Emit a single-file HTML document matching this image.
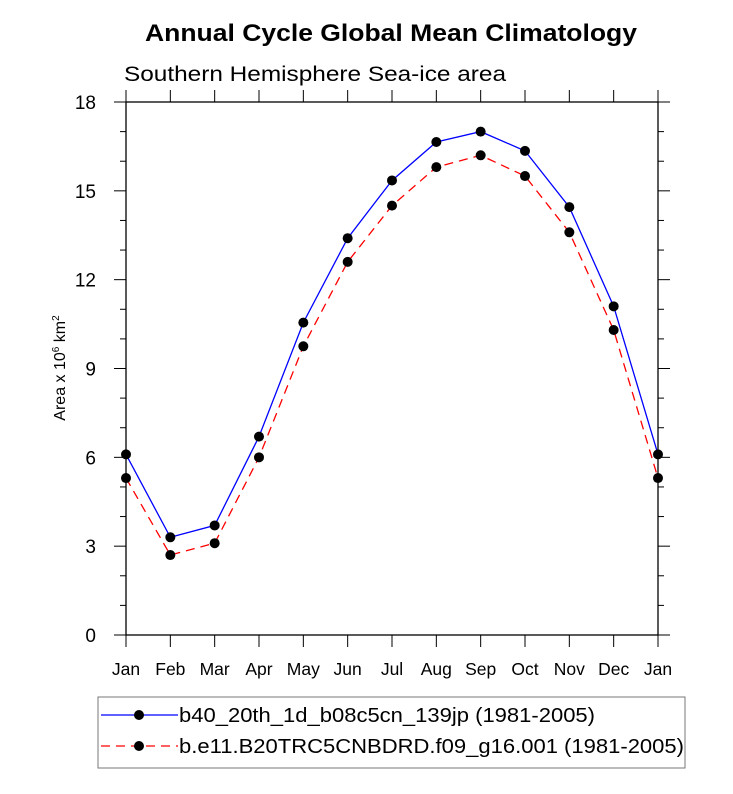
<!DOCTYPE html>
<html><head><meta charset="utf-8"><style>
body{margin:0;background:#fff;}
svg text{font-family:"Liberation Sans",sans-serif;}
</style></head><body>
<svg width="733" height="789">
<text x="145" y="41" font-size="24" font-weight="bold" textLength="492" lengthAdjust="spacingAndGlyphs">Annual Cycle Global Mean Climatology</text>
<text x="124" y="81" font-size="21" textLength="382" lengthAdjust="spacingAndGlyphs">Southern Hemisphere Sea-ice area</text>
<text transform="translate(65,368) rotate(-90)" font-size="16" text-anchor="middle">Area x 10<tspan font-size="10" dy="-6">6</tspan><tspan dy="6"> km</tspan><tspan font-size="10" dy="-6">2</tspan></text>
<g id="axes"></g>
<g id="series"></g>
<g>
<rect x="98" y="697" width="587" height="71" fill="none" stroke="#777" stroke-width="1"/>
<line x1="101" y1="715" x2="178" y2="715" stroke="#0000ff" stroke-width="1.3"/>
<circle cx="139" cy="715" r="5" fill="#000"/>
<text x="179" y="722" font-size="20" textLength="416" lengthAdjust="spacingAndGlyphs">b40_20th_1d_b08c5cn_139jp (1981-2005)</text>
<line x1="101" y1="746" x2="178" y2="746" stroke="#ff0000" stroke-width="1.3" stroke-dasharray="9,6"/>
<circle cx="139" cy="746" r="5" fill="#000"/>
<text x="179" y="753" font-size="20" textLength="505" lengthAdjust="spacingAndGlyphs">b.e11.B20TRC5CNBDRD.f09_g16.001 (1981-2005)</text>
</g>
</svg>
<script>
const months=["Jan","Feb","Mar","Apr","May","Jun","Jul","Aug","Sep","Oct","Nov","Dec","Jan"];
const seriesA=[6.1,3.3,3.7,6.7,10.55,13.4,15.35,16.65,17.0,16.35,14.45,11.1,6.1];
const seriesB=[5.3,2.7,3.1,6.0,9.75,12.6,14.5,15.8,16.2,15.5,13.6,10.3,5.3];
const yTicks=[0,3,6,9,12,15,18];
const NS="http://www.w3.org/2000/svg";
const L=126,R=658,T=102,B=635,YMAX=18;
const xs=i=>L+(R-L)*i/(months.length-1);
const ys=v=>B-(B-T)*v/YMAX;
function mk(tag,attrs,parent){const e=document.createElementNS(NS,tag);for(const k in attrs)e.setAttribute(k,attrs[k]);parent.appendChild(e);return e;}
const ax=document.getElementById('axes');
const frame=mk('rect',{x:L,y:T,width:R-L,height:B-T,fill:'none',stroke:'#000','stroke-width':1.3},ax);


for(let v=0;v<=YMAX;v++){const major=v%3===0;const len=major?12:6;const y=ys(v);
mk('line',{x1:L-len,y1:y,x2:L,y2:y,stroke:'#000','stroke-width':1},ax);
mk('line',{x1:R,y1:y,x2:R+len,y2:y,stroke:'#000','stroke-width':1},ax);}
yTicks.forEach(v=>{const t=mk('text',{x:L-30,y:ys(v)+7,'font-size':19,'text-anchor':'end'},ax);t.textContent=v;

});
months.forEach((m,i)=>{const x=xs(i);
mk('line',{x1:x,y1:B,x2:x,y2:B+12,stroke:'#000','stroke-width':1},ax);
mk('line',{x1:x,y1:T,x2:x,y2:T-12,stroke:'#000','stroke-width':1},ax);
const t=mk('text',{x:x,y:B+40,'font-size':17.5,'text-anchor':'middle'},ax);t.textContent=m;

});
const sg=document.getElementById('series');
function draw(vals,color,dash,name){
const pts=vals.map((v,i)=>xs(i)+','+ys(v)).join(' ');
const pl=mk('polyline',{points:pts,fill:'none',stroke:color,'stroke-width':1.3},sg);
if(dash)pl.setAttribute('stroke-dasharray',dash);


vals.forEach((v,i)=>{const c=mk('circle',{cx:xs(i),cy:ys(v),r:5,fill:'#000'},sg);

});}
draw(seriesA,'#0000ff',null,'series-b40');
draw(seriesB,'#ff0000','9,6','series-be11');
</script>
</body></html>
